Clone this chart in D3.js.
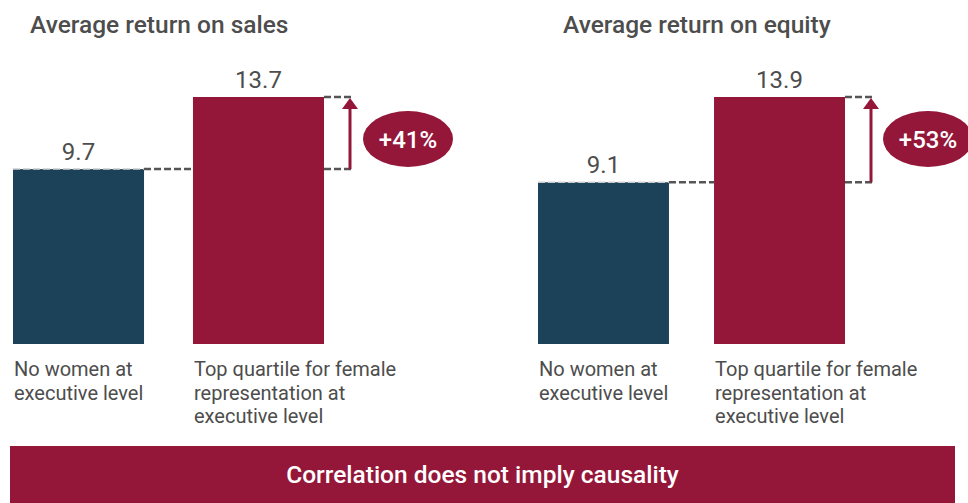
<!DOCTYPE html>
<html>
<head>
<meta charset="utf-8">
<script src="https://cdn.jsdelivr.net/npm/d3@7"></script>
<style>
  html, body { margin: 0; padding: 0; background: #fff; }
  svg { display: block; font-family: Roboto, "Open Sans", sans-serif; }
</style>
</head>
<body>
<div id="chart"></div>
<script>
// chart data
const panelTitles = ['Average return on sales', 'Average return on equity'];
const categories = [
  ['No women at', 'executive level'],
  ['Top quartile for female', 'representation at', 'executive level']
];
const salesValues = [9.7, 13.7];
const equityValues = [9.1, 13.9];
const upliftLabels = ['+41%', '+53%'];
const footerText = 'Correlation does not imply causality';

const width = 968, height = 503;
const navy = '#1c4259', crimson = '#941739', grey = '#4d4d4d', dashGrey = '#555';

const svg = d3.select('#chart').append('svg')
  .attr('width', width).attr('height', height);

const panels = [
  { title: panelTitles[0], values: salesValues, uplift: upliftLabels[0], range: [13, 324], pad: 0.272, titleX: 30, badgeX: 408 },
  { title: panelTitles[1], values: equityValues, uplift: upliftLabels[1], range: [538, 845], pad: 0.256, titleX: 563, badgeX: 928 }
];

const baseline = 344, topY = 97;

panels.forEach(p => {
  const g = svg.append('g');
  const x = d3.scaleBand().domain([0, 1]).range(p.range).paddingInner(p.pad);
  const y = d3.scaleLinear().domain([0, d3.max(p.values)]).range([baseline, topY]);

  g.append('text')
    .attr('x', p.titleX).attr('y', 33)
    .attr('fill', grey).style('font-size', '24.5px').style('font-weight', 500)
    .text(p.title);

  g.selectAll('rect.bar').data(p.values).join('rect')
    .attr('class', 'bar')
    .attr('x', (d, i) => x(i)).attr('y', d => y(d))
    .attr('width', x.bandwidth()).attr('height', d => baseline - y(d))
    .attr('fill', (d, i) => i === 0 ? navy : crimson);

  g.selectAll('text.val').data(p.values).join('text')
    .attr('class', 'val')
    .attr('x', (d, i) => x(i) + x.bandwidth() / 2).attr('y', d => y(d) - 9)
    .attr('text-anchor', 'middle').attr('fill', grey)
    .style('font-size', '24px')
    .text(d => d3.format('.1f')(d));

  // dashed reference lines
  const lo = y(p.values[0]), hi = y(p.values[1]);
  const x2r = x(1) + x.bandwidth();
  const arrowX = x2r + 26;
  const dash = [
    [x(0), x(0) + x.bandwidth(), lo, 0.6],
    [x(0) + x.bandwidth(), x(1), lo, 1],
    [x2r, arrowX + 4, lo, 1],
    [x2r, arrowX + 4, hi, 1]
  ];
  g.selectAll('line.dash').data(dash).join('line')
    .attr('class', 'dash')
    .attr('x1', d => d[0]).attr('x2', d => d[1])
    .attr('y1', d => d[2]).attr('y2', d => d[2])
    .attr('stroke', d => d[3] < 1 ? '#ccc' : dashGrey)
    .attr('stroke-width', d => d[3] < 1 ? 1.5 : 2.5)
    .attr('stroke-dasharray', '7,3');

  // arrow
  g.append('line')
    .attr('x1', arrowX).attr('x2', arrowX)
    .attr('y1', lo).attr('y2', hi + 8)
    .attr('stroke', crimson).attr('stroke-width', 3);
  g.append('path')
    .attr('d', `M${arrowX - 8},${hi + 12}L${arrowX},${hi + 1}L${arrowX + 8},${hi + 12}Z`)
    .attr('fill', crimson);

  // uplift badge
  g.append('ellipse')
    .attr('cx', p.badgeX).attr('cy', 139).attr('rx', 45).attr('ry', 28)
    .attr('fill', crimson);
  g.append('text')
    .attr('x', p.badgeX).attr('y', 147.5)
    .attr('text-anchor', 'middle').attr('fill', '#fff')
    .style('font-size', '24px').style('font-weight', 500)
    .text(p.uplift);

  // category labels, one text per line
  categories.forEach((lines, i) => {
    g.selectAll(null).data(lines).join('text')
      .attr('x', x(i) + 1).attr('y', (l, j) => 376 + j * 23.5)
      .attr('fill', grey).style('font-size', '20px')
      .text(l => l);
  });
});

// footer banner
svg.append('rect')
  .attr('x', 10).attr('y', 446).attr('width', 945).attr('height', 60)
  .attr('fill', crimson);
svg.append('text')
  .attr('x', 10 + 945 / 2).attr('y', 483)
  .attr('text-anchor', 'middle').attr('fill', '#fff')
  .style('font-size', '24.5px').style('font-weight', 500)
  .text(footerText);
</script>
</body>
</html>
